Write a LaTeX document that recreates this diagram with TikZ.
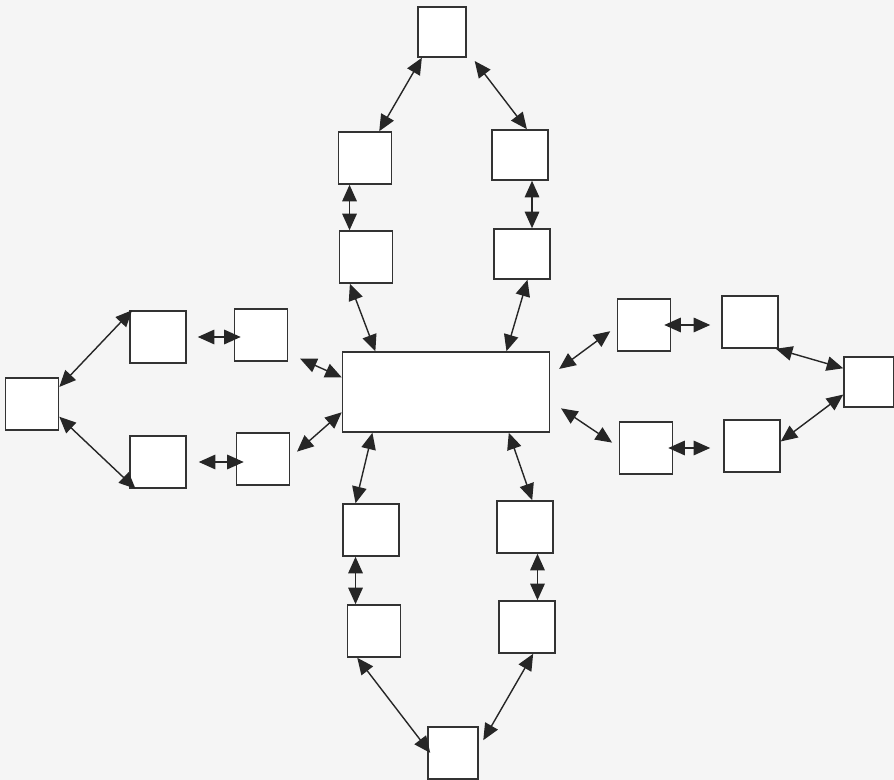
\documentclass[tikz,border=0pt]{standalone}
\usetikzlibrary{arrows.meta}
\begin{document}
\begin{tikzpicture}[x=0.02cm, y=-0.02cm,
    bx/.style={rectangle, draw=black!80, fill=white, line width=0.9pt,
        minimum width=1.06cm, minimum height=1.04cm, inner sep=0pt},
    wbx/.style={bx, minimum width=1.12cm},
    hub/.style={bx, minimum width=4.14cm, minimum height=1.6cm},
    ar/.style={{Triangle[length=3.3mm,width=2.9mm]}-{Triangle[length=3.3mm,width=2.9mm]},
        line width=0.8pt, color=black!85}]
\fill[black!4] (0,0) rectangle (894,780);
\useasboundingbox (0,0) rectangle (894,780);
% hub
\node[hub] (C) at (446,392) {};
% upper branch
\node[bx, minimum width=0.96cm, minimum height=1cm] (T) at (442,32) {};
\node[bx] (UL1) at (365,158) {};
\node[wbx, minimum height=1cm] (UR1) at (520,155) {};
\node[bx] (UL2) at (366,257) {};
\node[wbx, minimum height=1cm] (UR2) at (522,254) {};
% left branch
\node[bx] (L) at (32,404) {};
\node[wbx] (LU1) at (158,337) {};
\node[bx] (LU2) at (261,335) {};
\node[wbx] (LL1) at (158,462) {};
\node[bx] (LL2) at (263,459) {};
% right branch
\node[bx, minimum width=1cm, minimum height=1cm] (R) at (869,382) {};
\node[bx] (RU1) at (644,325) {};
\node[wbx] (RU2) at (750,322) {};
\node[bx] (RL1) at (646,448) {};
\node[wbx] (RL2) at (752,446) {};
% lower branch
\node[wbx] (BL1) at (371,530) {};
\node[wbx] (BR1) at (525,527) {};
\node[bx] (BL2) at (374,631) {};
\node[wbx] (BR2) at (527,627) {};
\node[bx, minimum width=1cm] (BB) at (453,753) {};
% upper links
\draw[ar] (T.232) -- (UL1.62);
\draw[ar, shorten <=0.26cm] (T.323) -- (UR1.75);
\draw[ar] (UL1.240) -- (UL1.240 |- UL2.north);
\draw[ar] (UR1.295) -- (UR1.295 |- UR2.north);
\draw[ar] (UL2.239) -- (C.150);
\draw[ar] (UR2.282) -- (C.34);
% left links
\draw[ar] (L.32) -- (LU1.134);
\draw[ar] (L.335) -- (LL1.230);
\draw[ar, shorten <=0.22cm, shorten >=-0.14cm] (LU1.east) -- (LU1.east -| LU2.west);
\draw[ar, shorten <=0.24cm, shorten >=-0.16cm] (LL1.east) -- (LL1.east -| LL2.west);
\draw[ar, shorten <=0.26cm] (LU2.326) -- (C.172);
\draw[ar, shorten <=0.18cm] (LL2.3) -- (C.191);
% right links
\draw[ar, shorten <=0.22cm, shorten >=0.16cm] (C.9) -- (RU1.183);
\draw[ar, shorten <=0.26cm, shorten >=0.16cm] (C.355) -- (RL1.178);
\draw[ar, shorten <=-0.14cm, shorten >=0.22cm] (RU1.east) -- (RU1.east -| RU2.west);
\draw[ar, shorten <=-0.1cm, shorten >=0.26cm] (RL1.east) -- (RL1.east -| RL2.west);
\draw[ar] (RU2.314) -- (R.152);
\draw[ar] (RL2.9) -- (R.206);
% lower links
\draw[ar] (C.209) -- (BL1.120);
\draw[ar] (C.327) -- (BR1.75);
\draw[ar] (BL1.240) -- (BL1.240 |- BL2.north);
\draw[ar] (BR1.295) -- (BR1.295 |- BR2.north);
\draw[ar, shorten >=-0.1cm] (BL2.238) -- (BB.171);
\draw[ar, shorten >=0.18cm] (BR2.283) -- (BB.11);
\end{tikzpicture}
\end{document}
